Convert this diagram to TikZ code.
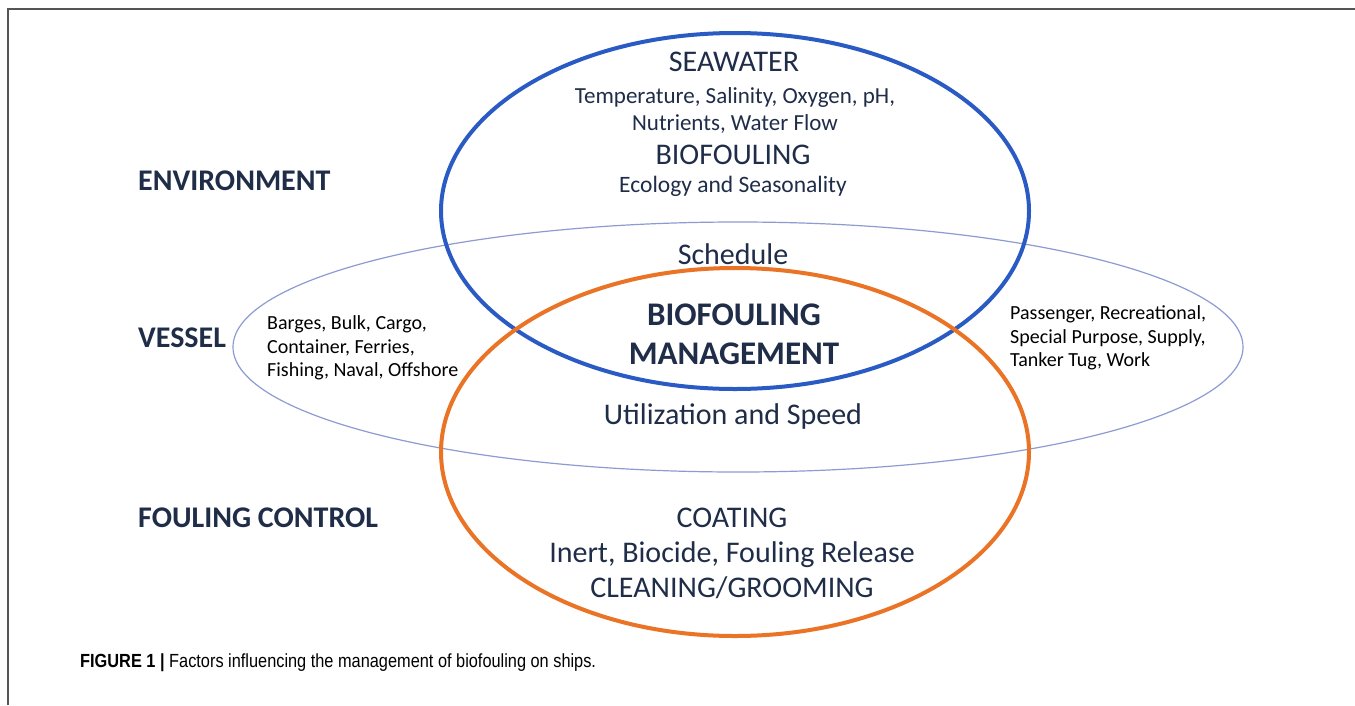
\documentclass[tikz,border=0pt]{standalone}
\usepackage{fontspec}
\setmainfont{Carlito}
\newfontfamily\capfont[FakeStretch=0.86]{Liberation Sans}
\definecolor{navy}{HTML}{1F2D48}
\definecolor{envblue}{HTML}{2A5BC4}
\definecolor{ctlorange}{HTML}{EA7325}
\definecolor{vesselline}{HTML}{8E9BD2}
\definecolor{framegray}{HTML}{555555}
\tikzset{
  txt/.style={text=navy, inner sep=0pt, align=center},
  side/.style={text=navy, inner sep=0pt, anchor=west, font=\fontsize{30}{34}\selectfont\bfseries},
  list/.style={text=black, inner sep=0pt, anchor=west, align=left, font=\fontsize{20}{23.5}\selectfont},
}
\begin{document}
\begin{tikzpicture}[x=1pt,y=-1pt]
\useasboundingbox (0,0) rectangle (1355,705);
\fill[white] (0,0) rectangle (1355,705);
\draw[framegray, line width=1.5pt] (8,705) -- (8,9) -- (1355,9);
% ellipses
\draw[vesselline, line width=1.2pt] (738,347) ellipse [x radius=505, y radius=125];
\draw[envblue, line width=4pt] (735,211) ellipse [x radius=294, y radius=178];
\draw[ctlorange, line width=4pt] (735,452) ellipse [x radius=294, y radius=184];
% side labels
\node[side] (env) at (138,181) {ENVIRONMENT};
\node[side] (ves) at (138,338) {VESSEL};
\node[side] (fc) at (138,518) {FOULING CONTROL};
% environment circle
\node[txt, font=\fontsize{30}{34}\selectfont] (sea) at (734,62) {SEAWATER};
\node[txt, font=\fontsize{23}{27}\selectfont] (seap) at (735,110) {Temperature, Salinity, Oxygen, pH,\\Nutrients, Water Flow};
\node[txt, font=\fontsize{30}{34}\selectfont] (bio) at (733,155) {BIOFOULING};
\node[txt, font=\fontsize{23.5}{30}\selectfont] (eco) at (733,186) {Ecology and Seasonality};
\node[txt, font=\fontsize{30}{34}\selectfont] (sch) at (733,254) {Schedule};
\node[txt, font=\fontsize{33}{39}\selectfont\bfseries] (mgmt) at (734,334) {BIOFOULING\\MANAGEMENT};
\node[txt, font=\fontsize{30}{34}\selectfont] (util) at (733,416) {Utilization and Speed};
\node[txt, font=\fontsize{30}{35}\selectfont] (coat) at (732,553) {COATING\\Inert, Biocide, Fouling Release\\CLEANING/GROOMING};
% vessel lists
\node[list] (vl) at (267,348) {Barges, Bulk, Cargo,\\Container, Ferries,\\Fishing, Naval, Offshore};
\node[list] (vr) at (1010,338) {Passenger, Recreational,\\Special Purpose, Supply,\\Tanker Tug, Work};
% caption
\node[inner sep=0pt, anchor=west, text=black, font=\capfont\fontsize{19}{20}\selectfont] (cap) at (80,663) {\textbf{FIGURE 1 |} Factors influencing the management of biofouling on ships.};
\end{tikzpicture}
\end{document}
